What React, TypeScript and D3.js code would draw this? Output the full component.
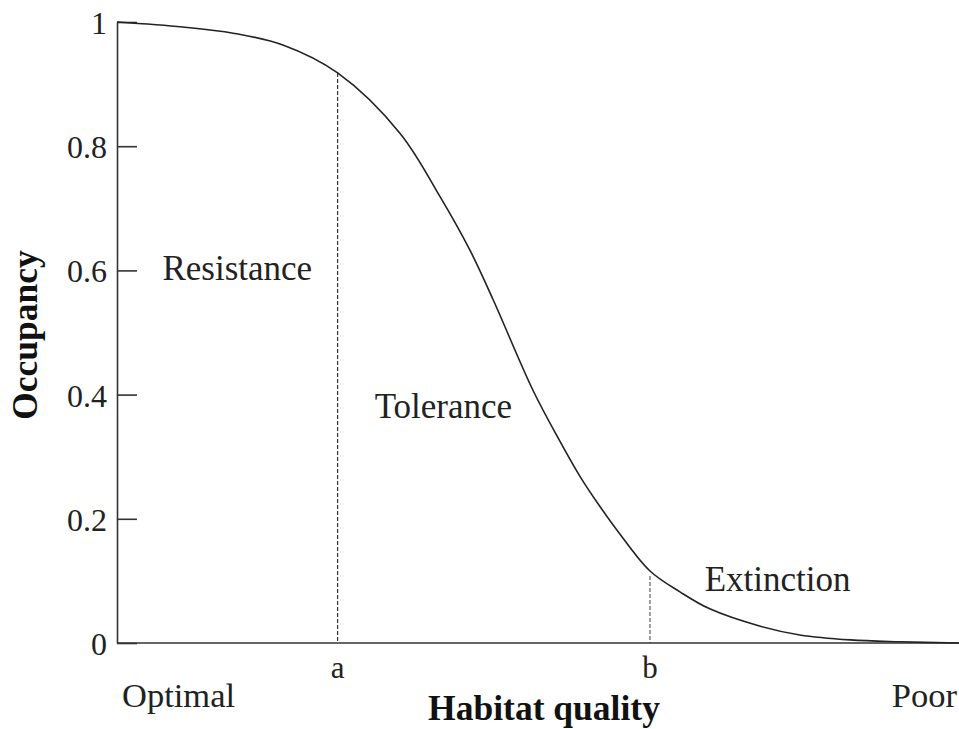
import { useEffect, useRef } from 'react'
import * as d3 from 'd3'

// habitat quality (0 = optimal, 100 = poor) vs occupancy
const quality = [0, 7.8, 13.8, 19.7, 26.2, 33.6, 38.4, 41.9, 44.7, 49.4, 52.6, 55.0, 57.4, 59.7, 63.3, 66.9, 70.4, 76.4, 81.1, 87.1, 93.0, 100]
const occupancy = [1.0, 0.992, 0.982, 0.963, 0.918, 0.821, 0.718, 0.633, 0.552, 0.407, 0.325, 0.268, 0.219, 0.176, 0.116, 0.082, 0.055, 0.027, 0.013, 0.005, 0.002, 0.0]
const yTicks = [0, 0.2, 0.4, 0.6, 0.8, 1]
const thresholds = [{ name: 'a', q: 26.2 }, { name: 'b', q: 63.3 }]
const zones = [
  { name: 'Resistance', q: 5.4, v: 0.585 },
  { name: 'Tolerance', q: 30.6, v: 0.363 },
  { name: 'Extinction', q: 69.8, v: 0.083 },
]

const W = 959, H = 729
const FONT = '"Liberation Serif", "Times New Roman", serif'

export default function App() {
  const svgRef = useRef<SVGSVGElement>(null)

  useEffect(() => {
    if (!svgRef.current) return
    const svg = d3.select(svgRef.current)
    svg.selectAll('*').remove()

    const x = d3.scaleLinear().domain([0, 100]).range([117, 959])
    const y = d3.scaleLinear().domain([0, 1]).range([643, 22])

    const pts: [number, number][] = quality.map((q, i) => [q, occupancy[i]])
    const line = d3.line<[number, number]>()
      .x(d => x(d[0])).y(d => y(d[1]))
      .curve(d3.curveCatmullRom.alpha(0.5))

    const interp = (q: number) => {
      const i = d3.bisectLeft(quality, q)
      if (i <= 0) return occupancy[0]
      const t = (q - quality[i - 1]) / (quality[i] - quality[i - 1])
      return occupancy[i - 1] + t * (occupancy[i] - occupancy[i - 1])
    }

    // threshold dashed lines
    thresholds.forEach((t, i) => {
      svg.append('line')
        .attr('x1', x(t.q)).attr('x2', x(t.q))
        .attr('y1', y(interp(t.q)) + (i === 0 ? 0 : 5)).attr('y2', y(0))
        .attr('stroke', i === 0 ? '#333' : '#888')
        .attr('stroke-width', i === 0 ? 1.2 : 1.6)
        .attr('stroke-dasharray', '4,2')
      svg.append('text')
        .attr('x', x(t.q)).attr('y', 678)
        .attr('text-anchor', 'middle')
        .attr('font-family', FONT).attr('font-size', 31)
        .attr('fill', '#222')
        .text(t.name)
    })

    // y axis, ticks pointing inward
    const yAxis = d3.axisLeft(y)
      .tickValues(yTicks)
      .tickFormat(d => (+d === 0 || +d === 1) ? String(d) : (+d).toFixed(1))
      .tickSizeInner(-20).tickSizeOuter(0).tickPadding(10)
    const ga = svg.append('g').attr('transform', `translate(${x(0)},0)`).call(yAxis)
    ga.selectAll('path, line').attr('stroke', '#333').attr('stroke-width', 1.6)
    ga.selectAll('text')
      .attr('font-family', FONT).attr('font-size', 32).attr('fill', '#222')
      .attr('dy', '0.36em')

    // x axis
    svg.append('line')
      .attr('x1', x(0)).attr('x2', x(100))
      .attr('y1', y(0)).attr('y2', y(0))
      .attr('stroke', '#333').attr('stroke-width', 1.6)

    // curve
    svg.append('path')
      .datum(pts)
      .attr('d', line)
      .attr('fill', 'none')
      .attr('stroke', '#222')
      .attr('stroke-width', 1.6)

    // zone labels
    svg.selectAll('text.zone')
      .data(zones)
      .join('text')
      .attr('class', 'zone')
      .attr('x', d => x(d.q)).attr('y', d => y(d.v))
      .attr('font-family', FONT).attr('font-size', 35).attr('fill', '#222')
      .text(d => d.name)

    // end labels
    svg.append('text')
      .attr('x', 122).attr('y', 707)
      .attr('font-family', FONT).attr('font-size', 34.5).attr('fill', '#222')
      .text('Optimal')
    svg.append('text')
      .attr('x', 957).attr('y', 707).attr('text-anchor', 'end')
      .attr('font-family', FONT).attr('font-size', 34.5).attr('fill', '#222')
      .text('Poor')

    // axis titles
    svg.append('text')
      .attr('x', 544).attr('y', 720).attr('text-anchor', 'middle')
      .attr('font-family', FONT).attr('font-size', 35.5).attr('font-weight', 'bold')
      .attr('fill', '#111')
      .text('Habitat quality')
    svg.append('text')
      .attr('transform', 'translate(37,335) rotate(-90)')
      .attr('text-anchor', 'middle')
      .attr('font-family', FONT).attr('font-size', 35.5).attr('font-weight', 'bold')
      .attr('fill', '#111')
      .text('Occupancy')
  }, [])

  return (
    <svg ref={svgRef} width={W} height={H}
      style={{ position: 'absolute', left: 0, top: 0, background: '#fff', display: 'block' }} />
  )
}
